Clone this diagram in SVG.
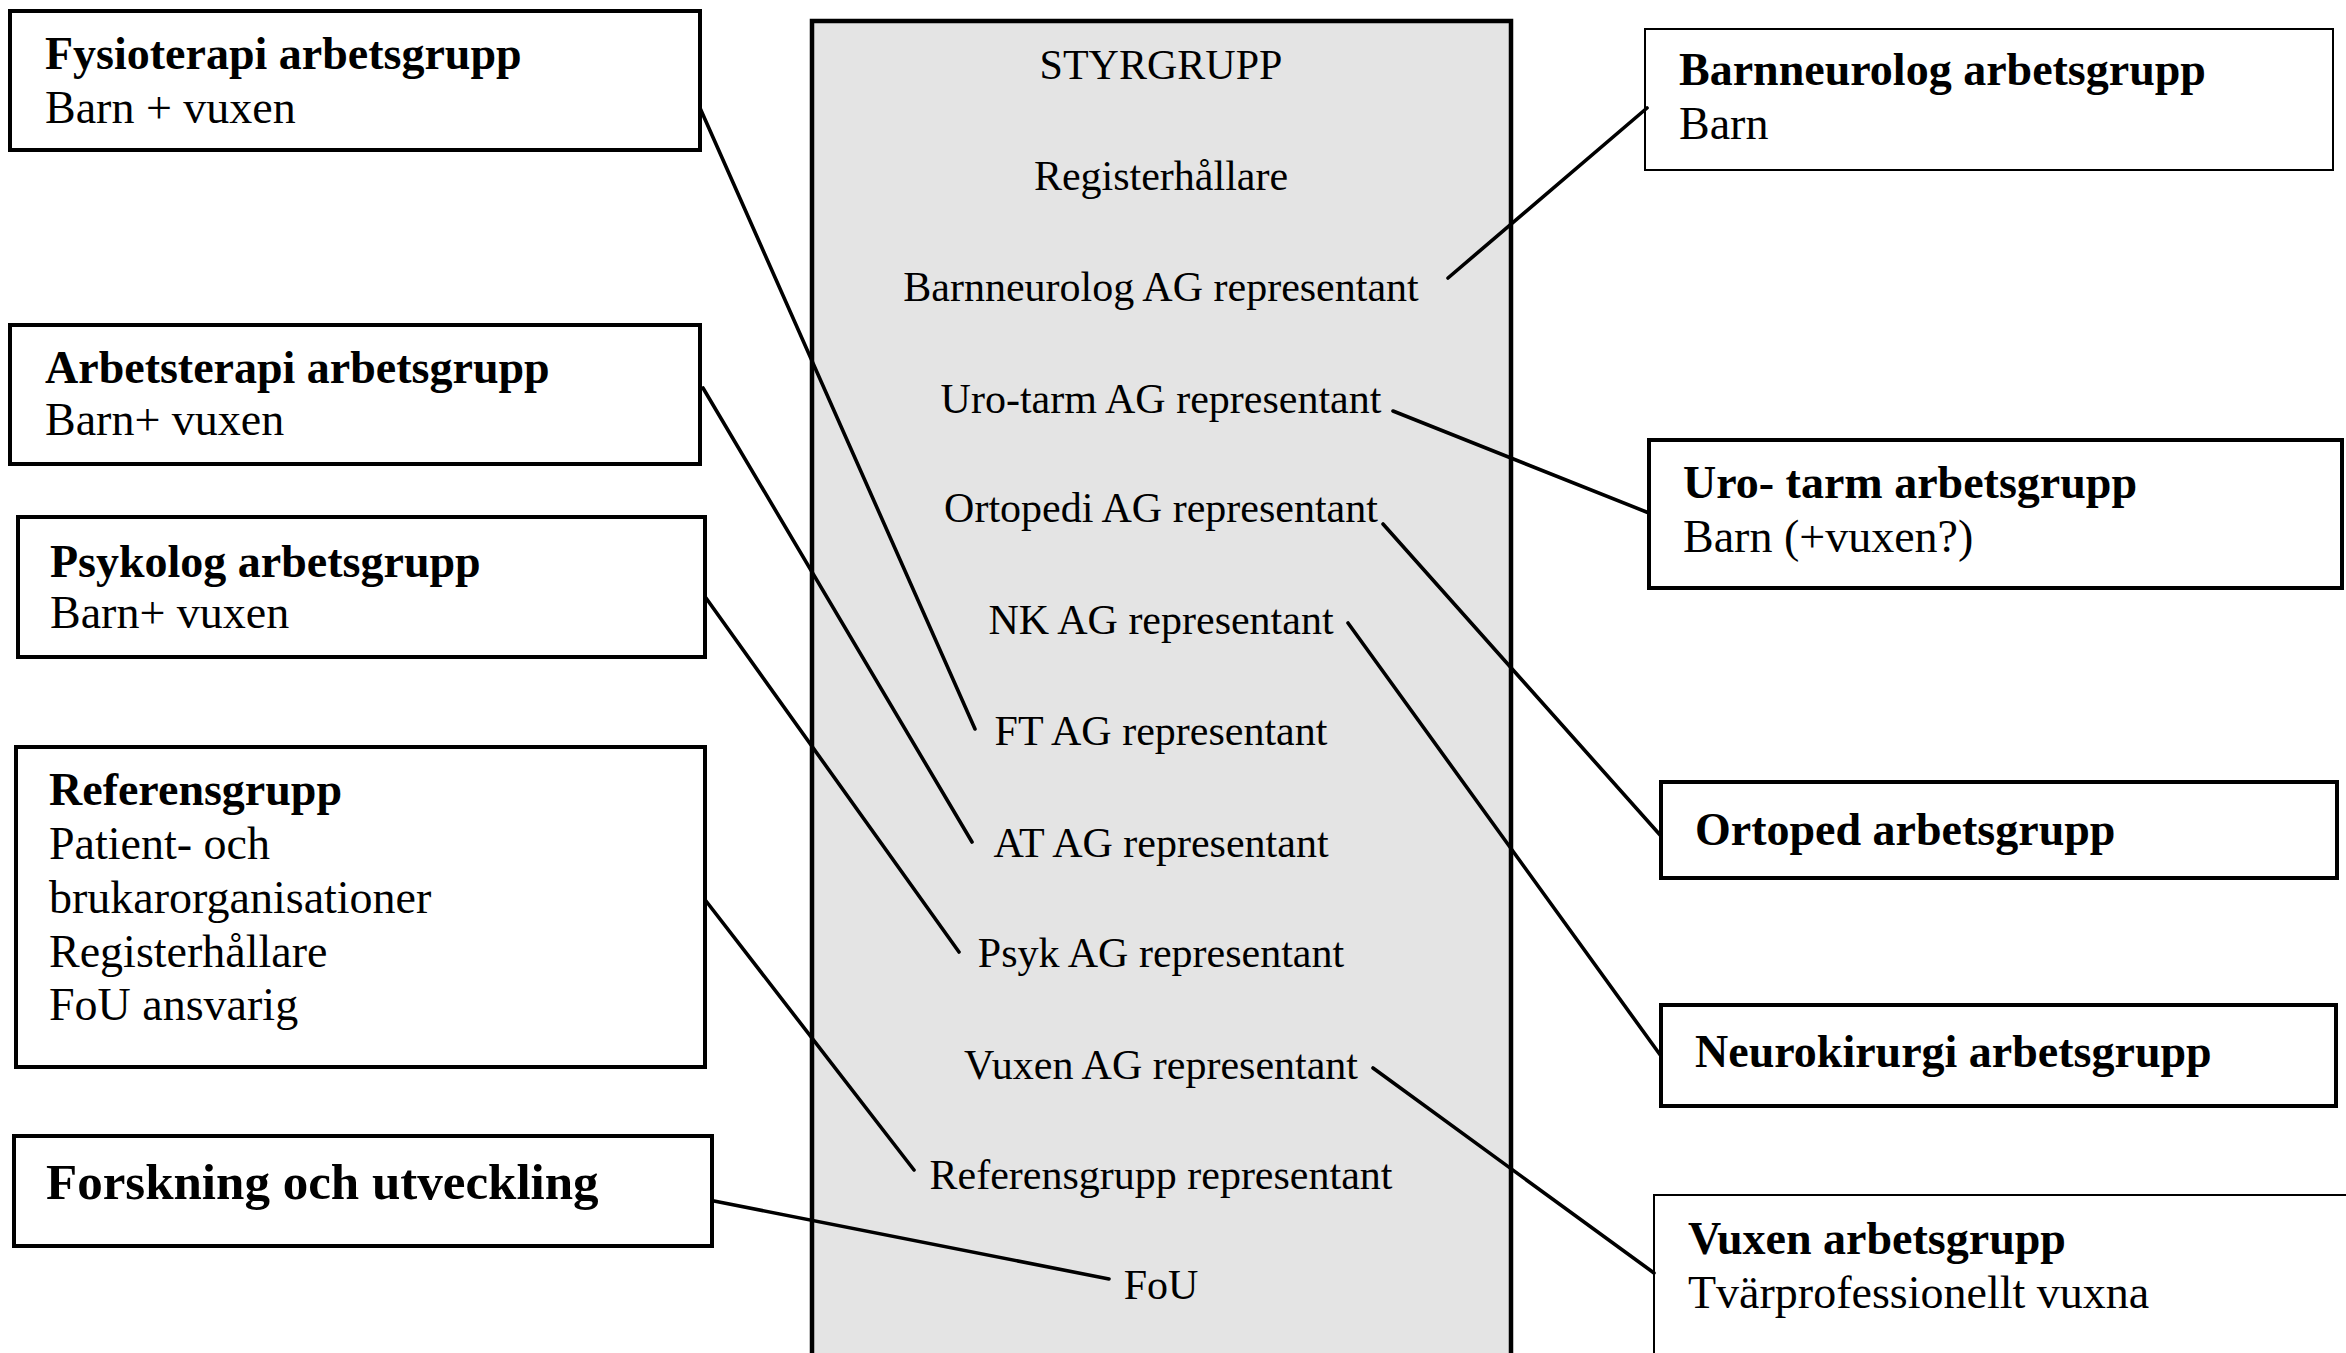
<svg xmlns="http://www.w3.org/2000/svg" width="2346" height="1353" viewBox="0 0 2346 1353">
<style>
.box{fill:#fff;stroke:#000;stroke-width:4}
.thin{fill:#fff;stroke:#000;stroke-width:2}
.main{fill:#e4e4e4;stroke:#000;stroke-width:4.5}
.t{font-family:"Liberation Serif","Times New Roman",serif;font-size:46px;fill:#000}
.b{font-weight:bold}
.c{font-family:"Liberation Serif","Times New Roman",serif;font-size:42px;fill:#000;text-anchor:middle}
.big{font-size:51px}
#connectors line{stroke:#000;stroke-width:3.6;stroke-linecap:round}
</style>
<rect width="2346" height="1353" fill="#fff"/>
<g id="styrgrupp">
<rect class="main" x="812" y="21" width="699" height="1340"/>
<text class="c" x="1161" y="79">STYRGRUPP</text>
<text class="c" x="1161" y="190">Registerhållare</text>
<text class="c" x="1161" y="301">Barnneurolog AG representant</text>
<text class="c" x="1161" y="413">Uro-tarm AG representant</text>
<text class="c" x="1161" y="522">Ortopedi AG representant</text>
<text class="c" x="1161" y="634">NK AG representant</text>
<text class="c" x="1161" y="745">FT AG representant</text>
<text class="c" x="1161" y="857">AT AG representant</text>
<text class="c" x="1161" y="967">Psyk AG representant</text>
<text class="c" x="1161" y="1079">Vuxen AG representant</text>
<text class="c" x="1161" y="1189">Referensgrupp representant</text>
<text class="c" x="1161" y="1299">FoU</text>
</g>
<g id="fysioterapi">
<rect class="box" x="10" y="11" width="690" height="139"/>
<text class="t b" x="45" y="69">Fysioterapi arbetsgrupp</text>
<text class="t" x="45" y="123">Barn + vuxen</text>
</g>
<g id="arbetsterapi">
<rect class="box" x="10" y="325" width="690" height="139"/>
<text class="t b" x="45" y="383">Arbetsterapi arbetsgrupp</text>
<text class="t" x="45" y="435">Barn+ vuxen</text>
</g>
<g id="psykolog">
<rect class="box" x="18" y="517" width="687" height="140"/>
<text class="t b" x="50" y="577">Psykolog arbetsgrupp</text>
<text class="t" x="50" y="628">Barn+ vuxen</text>
</g>
<g id="referensgrupp">
<rect class="box" x="16" y="747" width="689" height="320"/>
<text class="t b" x="49" y="805">Referensgrupp</text>
<text class="t" x="49" y="859">Patient- och</text>
<text class="t" x="49" y="913">brukarorganisationer</text>
<text class="t" x="49" y="967">Registerhållare</text>
<text class="t" x="49" y="1020">FoU ansvarig</text>
</g>
<g id="forskning">
<rect class="box" x="14" y="1136" width="698" height="110"/>
<text class="t b big" x="46" y="1199">Forskning och utveckling</text>
</g>
<g id="barnneurolog">
<rect class="thin" x="1645" y="29" width="688" height="141"/>
<text class="t b" x="1679" y="85">Barnneurolog arbetsgrupp</text>
<text class="t" x="1679" y="139">Barn</text>
</g>
<g id="urotarm">
<rect class="box" x="1649" y="440" width="693" height="148"/>
<text class="t b" x="1683" y="498">Uro- tarm arbetsgrupp</text>
<text class="t" x="1683" y="552">Barn (+vuxen?)</text>
</g>
<g id="ortoped">
<rect class="box" x="1661" y="782" width="676" height="96"/>
<text class="t b" x="1695" y="845">Ortoped arbetsgrupp</text>
</g>
<g id="neurokirurgi">
<rect class="box" x="1661" y="1005" width="675" height="101"/>
<text class="t b" x="1695" y="1067">Neurokirurgi arbetsgrupp</text>
</g>
<g id="vuxen">
<rect class="thin" x="1654" y="1195" width="720" height="200"/>
<text class="t b" x="1688" y="1254">Vuxen arbetsgrupp</text>
<text class="t" x="1688" y="1308">Tvärprofessionellt vuxna</text>
</g>
<g id="connectors">
<line x1="700" y1="108" x2="975" y2="729"/>
<line x1="703" y1="388" x2="972" y2="842"/>
<line x1="706" y1="598" x2="959" y2="952"/>
<line x1="706" y1="901" x2="914" y2="1170"/>
<line x1="714" y1="1201" x2="1109" y2="1279"/>
<line x1="1448" y1="278" x2="1647" y2="108"/>
<line x1="1393" y1="411" x2="1649" y2="513"/>
<line x1="1383" y1="524" x2="1661" y2="836"/>
<line x1="1348" y1="623" x2="1661" y2="1056"/>
<line x1="1373" y1="1068" x2="1654" y2="1273"/>
</g>
</svg>
